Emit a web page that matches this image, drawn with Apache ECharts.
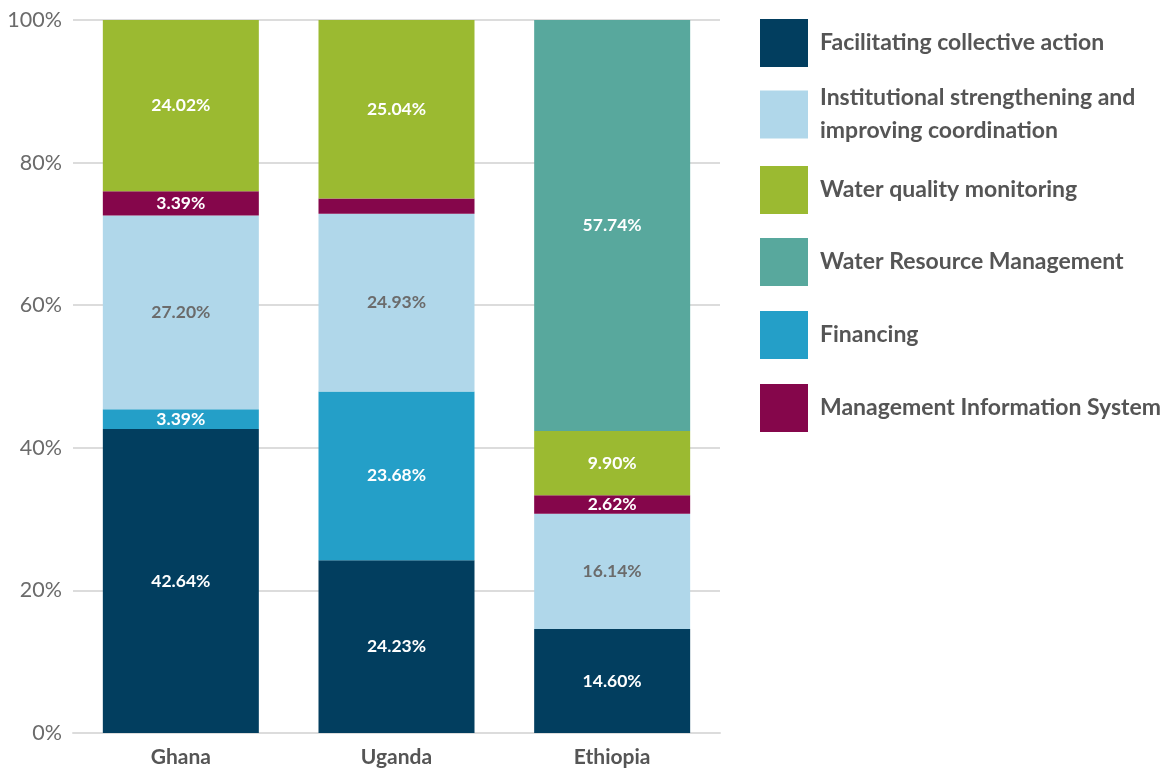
<!DOCTYPE html>
<html>
<head>
<meta charset="utf-8">
<script src="https://cdn.jsdelivr.net/npm/echarts@6/dist/echarts.min.js"></script>
<style>html,body{margin:0;padding:0;background:#fff}#c{width:1168px;height:774px}</style>
</head>
<body>
<div id="c"></div>
<script>
const categories = ['Ghana', 'Uganda', 'Ethiopia'];
const yTicks = ['0%', '20%', '40%', '60%', '80%', '100%'];

// bar heights (percent)
const facilitating = [42.64, 24.23, 14.60];
const financing = [2.75, 23.68, 0];
const institutional = [27.20, 24.93, 16.14];
const mis = [3.39, 2.12, 2.62];
const waterQuality = [24.02, 25.04, 9.00];
const waterResource = [0, 0, 57.64];

// printed labels
const facilitatingLabels = ['42.64%', '24.23%', '14.60%'];
const financingLabels = ['3.39%', '23.68%', ''];
const institutionalLabels = ['27.20%', '24.93%', '16.14%'];
const misLabels = ['3.39%', '', '2.62%'];
const waterQualityLabels = ['24.02%', '25.04%', '9.90%'];
const waterResourceLabels = ['', '', '57.74%'];

const FONT = 'Lato';
const seriesDefs = [
  {name: 'Facilitating collective action', data: facilitating, labels: facilitatingLabels, color: '#023e5f', text: '#ffffff'},
  {name: 'Financing', data: financing, labels: financingLabels, color: '#249fc8', text: '#ffffff'},
  {name: 'Institutional strengthening and\nimproving coordination', data: institutional, labels: institutionalLabels, color: '#b0d7ea', text: '#6b6b6b'},
  {name: 'Management Information System', data: mis, labels: misLabels, color: '#85064b', text: '#ffffff'},
  {name: 'Water quality monitoring', data: waterQuality, labels: waterQualityLabels, color: '#9bba31', text: '#ffffff'},
  {name: 'Water Resource Management', data: waterResource, labels: waterResourceLabels, color: '#58a89d', text: '#ffffff'}
];
const legendOrder = [0, 2, 4, 5, 1, 3];
const legendTops = [19, 78, 166, 238, 311, 384];

const chart = echarts.init(document.getElementById('c'), null, {renderer: 'canvas'});
chart.setOption({
  animation: false,
  grid: {left: 73, right: 448, top: 20, bottom: 41},
  legend: legendOrder.map((si, i) => ({
    data: [seriesDefs[si].name],
    left: 760,
    top: legendTops[i],
    padding: 0,
    orient: 'vertical',
    itemWidth: 48,
    itemHeight: 48,
    itemGap: 0,
    icon: 'rect',
    selectedMode: false,
    textStyle: {fontFamily: FONT, fontSize: 23, fontWeight: 'bold', color: '#555555', lineHeight: 33, padding: [i === 1 ? 7 : 0, 0, 0, 7]}
  })),
  xAxis: {
    type: 'category',
    data: categories,
    axisLine: {show: true, lineStyle: {color: '#dcdcdc', width: 2}},
    axisTick: {show: false},
    axisLabel: {fontFamily: FONT, fontSize: 21, fontWeight: 'bold', color: '#555555', margin: 14}
  },
  yAxis: {
    type: 'value',
    min: 0, max: 100, interval: 20,
    axisLine: {show: false},
    axisTick: {show: false},
    splitLine: {lineStyle: {color: '#dcdcdc', width: 2}},
    axisLabel: {fontFamily: FONT, fontSize: 21.5, color: '#6b6b6b', margin: 11,
      formatter: v => yTicks[v / 20]}
  },
  series: seriesDefs.map(s => ({
    name: s.name,
    type: 'bar',
    stack: 'total',
    barWidth: 156,
    data: s.data,
    itemStyle: {color: s.color},
    label: {
      show: true,
      position: 'inside',
      fontFamily: FONT,
      fontSize: 17.5,
      fontWeight: 'bold',
      color: s.text,
      formatter: p => s.labels[p.dataIndex]
    }
  }))
});
</script>
</body>
</html>
